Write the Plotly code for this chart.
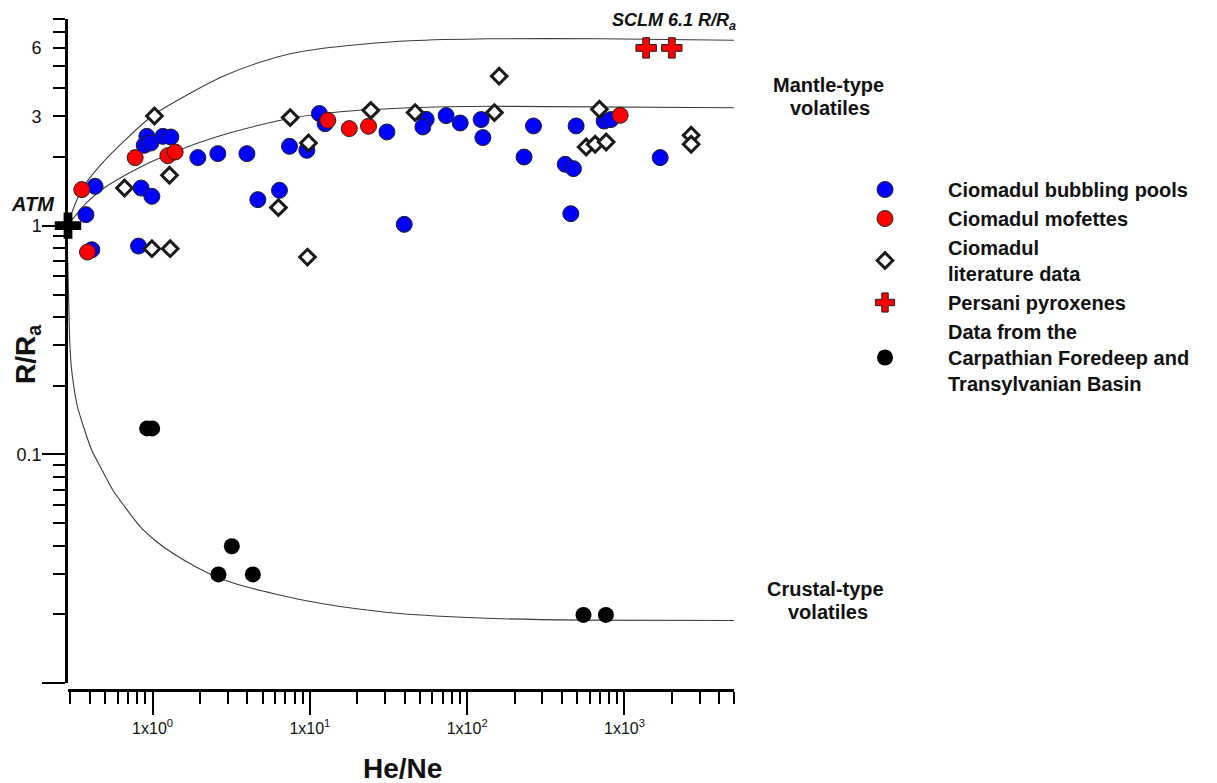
import math
import plotly.graph_objects as go

# ---------------- data ----------------
pools_x = [0.431, 0.377, 0.411, 0.920, 0.885, 0.975, 1.163, 1.307, 0.846, 0.990, 0.814,
           1.94, 2.60, 3.98, 4.67, 6.41, 7.42, 9.57, 11.5, 12.5, 30.9, 39.8, 54.9, 52.3,
           73.5, 90.3, 122.7, 125.9, 264, 230, 493, 420, 474, 456, 743, 819, 1687]
pools_y = [1.486, 1.117, 0.785, 2.456, 2.244, 2.297, 2.456, 2.440, 1.460, 1.343, 0.814,
           1.983, 2.064, 2.064, 1.299, 1.427, 2.222, 2.135, 3.09, 2.79, 2.567, 1.013, 2.915, 2.70,
           3.027, 2.81, 2.908, 2.425, 2.727, 1.995, 2.727, 1.854, 1.775, 1.128, 2.866, 2.908, 1.983]

mofettes_x = [0.355, 0.386, 0.775, 1.251, 1.392, 13.0, 17.8, 23.6, 939]
mofettes_y = [1.437, 0.767, 1.983, 2.023, 2.099, 2.886, 2.655, 2.718, 3.036]

literature_x = [1.028, 0.663, 1.281, 0.990, 1.294, 6.31, 7.50, 9.80, 9.66, 24.4, 46.7,
                159.8, 149, 571, 651, 765, 693, 2655, 2655]
literature_y = [3.015, 1.460, 1.660, 0.793, 0.793, 1.199, 2.966, 2.297, 0.729, 3.19, 3.12,
                4.50, 3.12, 2.206, 2.268, 2.321, 3.225, 2.483, 2.268]

persani_x = [1374, 2000]
persani_y = [5.98, 5.98]

basin_x = [0.924, 0.994, 3.19, 2.624, 4.34, 549, 762]
basin_y = [0.130, 0.130, 0.0397, 0.0299, 0.0299, 0.0199, 0.0199]

atm_x = [0.29]
atm_y = [1.0]

# mixing curves
upper_x = [0.285, 0.355, 0.4645, 0.687, 1.028, 1.734, 2.81, 4.60, 7.50, 12.2, 19.9,
           43.4, 140, 701, 5000]
upper_y = [1.0, 1.441, 1.835, 2.408, 3.067, 3.789, 4.496, 5.126, 5.639, 5.962, 6.176,
           6.427, 6.559, 6.559, 6.46]

middle_x = [0.285, 0.3365, 0.382, 0.4995, 0.687, 0.9655, 1.294, 2.007, 3.113, 4.60, 7.50,
            15.6, 43.4, 140, 5000]
middle_y = [1.0, 1.143, 1.264, 1.471, 1.676, 1.891, 2.061, 2.313, 2.545, 2.732, 2.946,
            3.145, 3.274, 3.324, 3.274]

lower_x = [0.285, 0.2928, 0.2972, 0.3038, 0.3150, 0.3316, 0.3568, 0.4113, 0.4644, 0.5617,
           0.6795, 0.8341, 1.039, 1.352, 1.866, 2.575, 3.879, 5.844, 9.335, 15.58, 37.5,
           121, 523, 5000]
lower_y = [1.0, 0.4714, 0.3150, 0.2449, 0.2003, 0.1637, 0.1380, 0.1041, 0.0886, 0.0696,
           0.0580, 0.0484, 0.0421, 0.0369, 0.0324, 0.0291, 0.02648, 0.02467, 0.02299,
           0.02165, 0.02018, 0.01928, 0.01889, 0.0188]

# axis ticks
x_major = [1, 10, 100, 1000]
x_major_text = ['1x10<sup>0</sup>', '1x10<sup>1</sup>', '1x10<sup>2</sup>', '1x10<sup>3</sup>']
x_minor = [0.3, 0.4, 0.5, 0.6, 0.7, 0.8, 0.9,
           2, 3, 4, 5, 6, 7, 8, 9,
           20, 30, 40, 50, 60, 70, 80, 90,
           200, 300, 400, 500, 600, 700, 800, 900,
           2000, 3000, 4000, 5000]
y_major = [0.01, 0.1, 1]
y_major_text = ['', '0.1', '1']
y_minor = [0.02, 0.03, 0.04, 0.05, 0.06, 0.07, 0.08, 0.09,
           0.2, 0.3, 0.4, 0.5, 0.6, 0.7, 0.8, 0.9,
           2, 3, 4, 5, 6, 7, 8]
y_label_vals = [3, 6]
y_label_text = ['3', '6']

X_RANGE = [0.29, 5000]
Y_RANGE = [0.01, 8]

FONT = 'Liberation Sans, Arial, sans-serif'

# ---------------- figure ----------------
fig = go.Figure()

curve_line = dict(color='#3c3c3c', width=1.1, shape='spline', smoothing=0.6)
for cx, cy in [(upper_x, upper_y), (middle_x, middle_y), (lower_x, lower_y)]:
    fig.add_trace(go.Scatter(x=cx, y=cy, mode='lines', line=curve_line,
                             showlegend=False, hoverinfo='skip'))

fig.add_trace(go.Scatter(
    x=pools_x, y=pools_y, mode='markers', name='Ciomadul bubbling pools',
    marker=dict(symbol='circle', size=16, color='#0000ff', line=dict(color='#202020', width=1))))
fig.add_trace(go.Scatter(
    x=mofettes_x, y=mofettes_y, mode='markers', name='Ciomadul mofettes',
    marker=dict(symbol='circle', size=16, color='#ff0000', line=dict(color='#202020', width=1))))
fig.add_trace(go.Scatter(
    x=literature_x, y=literature_y, mode='markers', name='Ciomadul<br>literature data',
    marker=dict(symbol='diamond', size=12, color='white', line=dict(color='#1a1a1a', width=3))))
fig.add_trace(go.Scatter(
    x=persani_x, y=persani_y, mode='markers', name='Persani pyroxenes',
    marker=dict(symbol='cross', size=17, color='#ff0000', line=dict(color='#202020', width=1))))
fig.add_trace(go.Scatter(
    x=basin_x, y=basin_y, mode='markers',
    name='Data from the<br>Carpathian Foredeep and<br>Transylvanian Basin',
    marker=dict(symbol='circle', size=16, color='#000000', line=dict(width=0))))
fig.add_trace(go.Scatter(
    x=atm_x, y=atm_y, mode='markers', showlegend=False, cliponaxis=False,
    marker=dict(symbol='cross', size=22, color='#000000', line=dict(width=0))))

# invisible overlay axis only carrying the "3" and "6" labels
fig.add_trace(go.Scatter(x=[X_RANGE[0]], y=[1], yaxis='y2', mode='markers',
                         marker=dict(opacity=0), showlegend=False, hoverinfo='skip'))

W, H = 1217, 783
ML, MR, MT, MB = 68, 20, 19, 93
PW = W - ML - MR
PH = H - MT - MB
x_dom_end = (734.4 - ML) / PW
y_dom_start = (690 - 683.3) / PH

fig.update_layout(
    width=W, height=H,
    margin=dict(l=ML, r=MR, t=MT, b=MB, pad=0),
    paper_bgcolor='white', plot_bgcolor='white',
    font=dict(family=FONT, color='#000'),
    xaxis=dict(
        type='log', range=[math.log10(X_RANGE[0]), math.log10(X_RANGE[1])],
        domain=[0, x_dom_end], anchor='free', position=0,
        showgrid=False, zeroline=False,
        showline=True, linecolor='#000', linewidth=2.5,
        tickmode='array', tickvals=x_major, ticktext=x_major_text,
        ticks='outside', ticklen=23, tickwidth=2, tickcolor='#000',
        tickfont=dict(size=16, color='#111'),
        minor=dict(tickmode='array', tickvals=x_minor, ticks='outside',
                   ticklen=12, tickwidth=2, tickcolor='#000', showgrid=False),
    ),
    yaxis=dict(
        type='log', range=[math.log10(Y_RANGE[0]), math.log10(Y_RANGE[1])],
        domain=[y_dom_start, 1], anchor='x',
        showgrid=False, zeroline=False,
        showline=True, linecolor='#000', linewidth=2.5,
        tickmode='array', tickvals=y_major, ticktext=y_major_text,
        ticks='outside', ticklen=23, tickwidth=2, tickcolor='#000',
        ticklabelstandoff=-3,
        tickfont=dict(size=18, color='#111'),
        minor=dict(tickmode='array', tickvals=y_minor, ticks='outside',
                   ticklen=12, tickwidth=2, tickcolor='#000', showgrid=False),
    ),
    yaxis2=dict(
        type='log', range=[math.log10(Y_RANGE[0]), math.log10(Y_RANGE[1])],
        overlaying='y', side='left', anchor='x',
        showgrid=False, zeroline=False, showline=False,
        tickmode='array', tickvals=y_label_vals, ticktext=y_label_text,
        ticks='outside', ticklen=12, tickwidth=2, tickcolor='#000',
        ticklabelstandoff=10,
        tickfont=dict(size=18, color='#111'),
    ),
    legend=dict(
        x=(822 - ML) / PW, y=(690 - 170) / PH, xref='paper', yref='paper',
        xanchor='left', yanchor='top',
        font=dict(family=FONT, size=20, color='#111', weight='bold'),
        itemwidth=116, bgcolor='rgba(0,0,0,0)', borderwidth=0,
        valign='middle', tracegroupgap=0,
    ),
)

def ann(text, px, py, size=20, angle=0):
    fig.add_annotation(text=text, xref='paper', yref='paper',
                       x=(px - ML) / PW, y=(690 - py) / PH,
                       xanchor='center', yanchor='middle', showarrow=False,
                       textangle=angle, font=dict(family=FONT, size=size, color='#111'))

ann('<b>Mantle-type</b>', 828, 85)
ann('<b>volatiles</b>', 830, 108)
ann('<b>Crustal-type</b>', 825, 589)
ann('<b>volatiles</b>', 828, 612)
ann('<b><i>SCLM 6.1 R/R<sub>a</sub></i></b>', 674, 21, size=18)
ann('<b><i>ATM</i></b>', 33, 204, size=20)
ann('<b>He/Ne</b>', 402, 768, size=28)
ann('<b>R/R<sub>a</sub></b>', 27, 354, size=28, angle=-90)

fig.write_html('out.html')
